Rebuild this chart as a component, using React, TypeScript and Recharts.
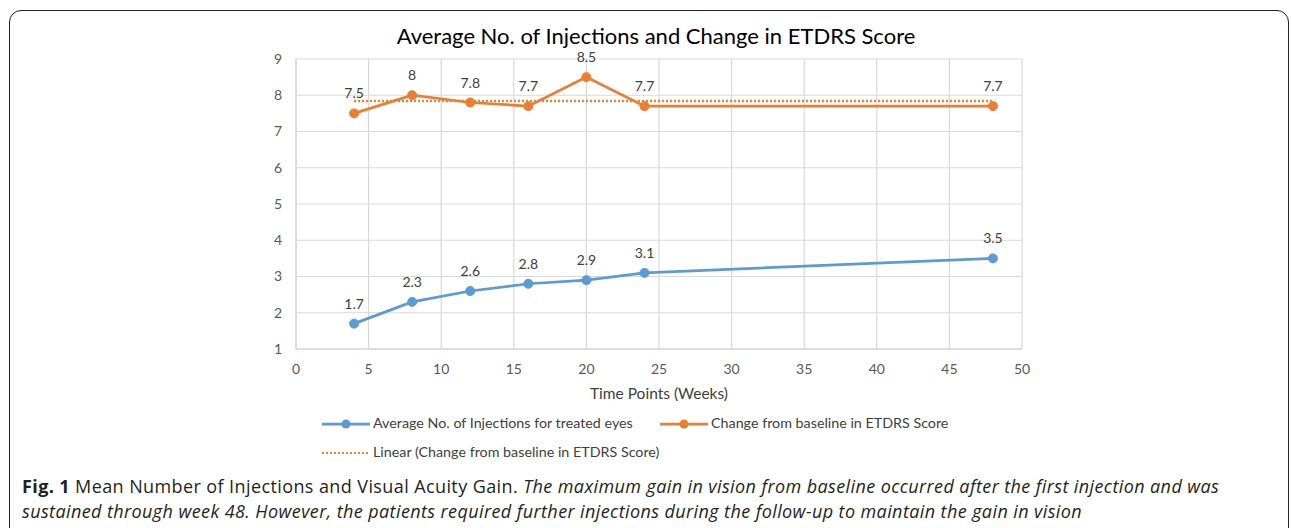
import React from 'react';
import { LineChart, Line, XAxis, YAxis, CartesianGrid, LabelList } from 'recharts';

const weeks = [4, 8, 12, 16, 20, 24, 48];
const injections = [1.7, 2.3, 2.6, 2.8, 2.9, 3.1, 3.5];
const etdrs = [7.5, 8, 7.8, 7.7, 8.5, 7.7, 7.7];
const trendStart = 7.84;
const trendEnd = 7.84;
const xTicks = [0, 5, 10, 15, 20, 25, 30, 35, 40, 45, 50];
const yTicks = [1, 2, 3, 4, 5, 6, 7, 8, 9];

const title = 'Average No. of Injections and Change in ETDRS Score';
const xLabel = 'Time Points (Weeks)';
const legendInj = 'Average No. of Injections for treated eyes';
const legendEtdrs = 'Change from baseline in ETDRS Score';
const legendTrend = 'Linear (Change from baseline in ETDRS Score)';

const BLUE = '#5B9BD5';
const ORANGE = '#ED7D31';
const FONT = 'Lato, "Open Sans", sans-serif';
const CAPFONT = '"Open Sans", sans-serif';

const data = weeks.map((w, i) => ({
  x: w,
  inj: injections[i],
  etdrs: etdrs[i],
  trend: i === 0 ? trendStart : i === weeks.length - 1 ? trendEnd : null,
}));

const LegendMark = ({ color, dotted }: { color: string; dotted?: boolean }) => (
  <svg width={48} height={12} style={{ display: 'inline-block', verticalAlign: 'middle', marginRight: 3 }}>
    <line x1={0} y1={6} x2={48} y2={6} stroke={color} strokeWidth={dotted ? 2.2 : 2.75} strokeDasharray={dotted ? '2 2' : undefined} />
    {!dotted && <circle cx={24} cy={6} r={4.5} fill={color} />}
  </svg>
);

export default function App() {
  const legendText: React.CSSProperties = { fontFamily: FONT, fontSize: 14.3, color: '#404040', whiteSpace: 'nowrap' };
  const capText: React.CSSProperties = { fontFamily: CAPFONT, fontSize: 18, letterSpacing: 0.4, color: '#231f20', whiteSpace: 'nowrap' };
  return (
    <div style={{ position: 'absolute', left: 0, top: 0, width: 1292, height: 528, background: '#fff', overflow: 'hidden' }}>
      <div
        style={{
          position: 'absolute', left: 9, top: 10, width: 1280, height: 560,
          border: '1.5px solid #231f20', borderRadius: '12px 12px 0 0', boxSizing: 'border-box',
        }}
      />
      <div style={{ position: 'absolute', left: 0, width: 1312, top: 22, textAlign: 'center', fontFamily: FONT, fontSize: 22, color: '#000', whiteSpace: 'nowrap' }}>
        {title}
      </div>
      <div style={{ position: 'absolute', left: 0, top: 0 }}>
        <LineChart width={1292} height={420} data={data} margin={{ top: 59, right: 270, left: 266, bottom: 41 }}>
          <CartesianGrid stroke="#d9d9d9" strokeWidth={1.2} />
          <XAxis
            dataKey="x" type="number" domain={[0, 50]} ticks={xTicks} interval={0}
            axisLine={{ stroke: '#d9d9d9', strokeWidth: 1.5 }} tickLine={false} tickSize={0} tickMargin={15} height={30}
            tick={{ fill: '#595959', fontSize: 14, fontFamily: FONT }}
          />
          <YAxis
            type="number" domain={[1, 9]} ticks={yTicks} interval={0} width={30}
            axisLine={{ stroke: '#d9d9d9', strokeWidth: 1.5 }} tickLine={false} tickSize={0} tickMargin={14}
            tick={{ fill: '#595959', fontSize: 14, fontFamily: FONT }}
          />
          <Line dataKey="trend" stroke={ORANGE} strokeWidth={2.4} strokeDasharray="2 2" dot={false} connectNulls isAnimationActive={false} />
          <Line dataKey="inj" stroke={BLUE} strokeWidth={2.75} dot={{ r: 4.5, fill: BLUE, stroke: BLUE, strokeWidth: 1 }} isAnimationActive={false}>
            <LabelList dataKey="inj" position="top" offset={15} fill="#404040" fontSize={14} fontFamily={FONT} />
          </Line>
          <Line dataKey="etdrs" stroke={ORANGE} strokeWidth={2.75} dot={{ r: 4.5, fill: ORANGE, stroke: ORANGE, strokeWidth: 1 }} isAnimationActive={false}>
            <LabelList dataKey="etdrs" position="top" offset={15} fill="#404040" fontSize={14} fontFamily={FONT} />
          </Line>
        </LineChart>
      </div>
      <div style={{ position: 'absolute', left: 559, width: 200, top: 384, textAlign: 'center', fontFamily: FONT, fontSize: 15.5, color: '#404040', whiteSpace: 'nowrap' }}>
        {xLabel}
      </div>
      <div style={{ position: 'absolute', left: 322, top: 414, ...legendText }}>
        <LegendMark color={BLUE} />{legendInj}
      </div>
      <div style={{ position: 'absolute', left: 660, top: 414, ...legendText }}>
        <LegendMark color={ORANGE} />{legendEtdrs}
      </div>
      <div style={{ position: 'absolute', left: 322, top: 443, ...legendText }}>
        <LegendMark color={ORANGE} dotted />{legendTrend}
      </div>
      <div style={{ position: 'absolute', left: 22, top: 474, ...capText }}>
        <b>Fig. 1</b> Mean Number of Injections and Visual Acuity Gain. <i>The maximum gain in vision from baseline occurred after the first injection and was</i>
      </div>
      <div style={{ position: 'absolute', left: 22, top: 499, ...capText }}>
        <i>sustained through week 48. However, the patients required further injections during the follow-up to maintain the gain in vision</i>
      </div>
    </div>
  );
}
